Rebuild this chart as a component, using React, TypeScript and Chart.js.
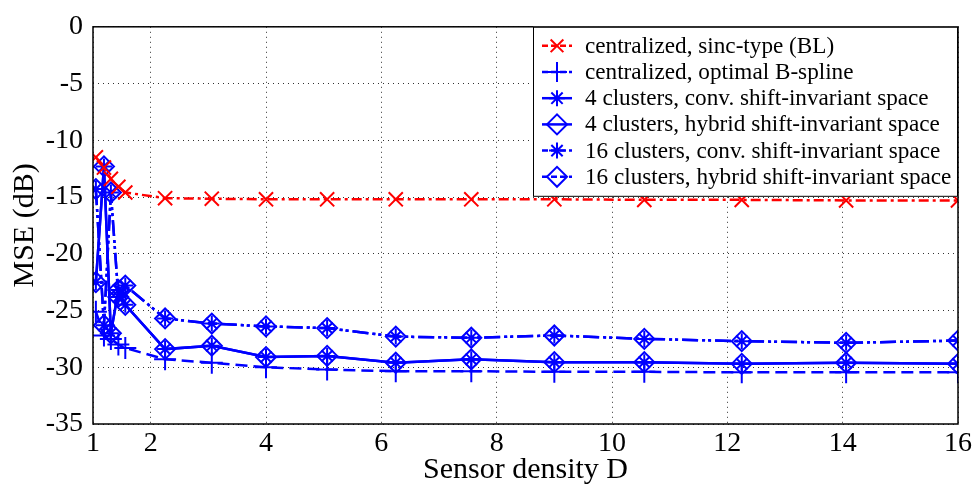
import React, { useEffect, useRef } from 'react';
import { Chart, registerables } from 'chart.js';

Chart.register(...registerables);

// Sensor density values (x) shared by every series
const densityX = [1.05, 1.19, 1.31, 1.44, 1.56, 2.25, 3.06, 4, 5.06, 6.25, 7.56, 9, 10.56, 12.25, 14.06, 16];

// MSE (dB) values
const sincY = [-11.5, -12.4, -13.4, -14.1, -14.6, -15.1, -15.15, -15.2, -15.2, -15.2, -15.2, -15.2, -15.25, -15.25, -15.3, -15.3];
const bsplineY = [-25.1, -27.2, -27.5, -28.0, -28.3, -29.3, -29.6, -30.0, -30.2, -30.35, -30.35, -30.4, -30.4, -30.45, -30.45, -30.45];
const conv4Y = [-22.5, -12.3, -27.0, -23.2, -24.5, -28.4, -28.1, -29.1, -29.0, -29.6, -29.3, -29.55, -29.55, -29.7, -29.6, -29.7];
const hybrid4Y = [-22.5, -12.3, -27.0, -23.2, -24.5, -28.4, -28.1, -29.1, -29.0, -29.6, -29.3, -29.55, -29.55, -29.7, -29.6, -29.7];
const conv16Y = [-14.3, -26.3, -14.6, -23.8, -22.8, -25.7, -26.15, -26.4, -26.55, -27.3, -27.4, -27.2, -27.5, -27.7, -27.85, -27.65];
const hybrid16Y = [-14.3, -26.3, -14.6, -23.8, -22.8, -25.7, -26.15, -26.4, -26.55, -27.3, -27.4, -27.2, -27.5, -27.7, -27.85, -27.65];

const seriesLabels = [
  'centralized, sinc-type (BL)',
  'centralized, optimal B-spline',
  '4 clusters, conv. shift-invariant space',
  '4 clusters, hybrid shift-invariant space',
  '16 clusters, conv. shift-invariant space',
  '16 clusters, hybrid shift-invariant space',
];

const xTickValues = [1, 2, 4, 6, 8, 10, 12, 14, 16];
const yMin = -35;
const yMax = 0;
const yStep = 5;

const RED = '#ff0000';
const BLUE = '#0000ff';
const FONT = "'Liberation Serif', 'Times New Roman', serif";

type Marker = 'crossRot' | 'cross' | 'star' | 'rectRot';

function drawMarker(ctx: CanvasRenderingContext2D, kind: Marker, x: number, y: number, r: number) {
  ctx.beginPath();
  const d = r * Math.SQRT1_2;
  if (kind === 'crossRot' || kind === 'star') {
    ctx.moveTo(x - d, y - d); ctx.lineTo(x + d, y + d);
    ctx.moveTo(x - d, y + d); ctx.lineTo(x + d, y - d);
  }
  if (kind === 'cross' || kind === 'star') {
    ctx.moveTo(x - r, y); ctx.lineTo(x + r, y);
    ctx.moveTo(x, y - r); ctx.lineTo(x, y + r);
  }
  if (kind === 'rectRot') {
    ctx.moveTo(x - r, y); ctx.lineTo(x, y - r); ctx.lineTo(x + r, y); ctx.lineTo(x, y + r); ctx.closePath();
  }
  ctx.stroke();
}

export default function App() {
  const ref = useRef<HTMLCanvasElement>(null);

  useEffect(() => {
    document.body.style.margin = '0';
    const canvas = ref.current;
    if (!canvas) return;

    const specs = [
      { data: sincY, color: RED, dash: [10, 4, 3, 4], marker: 'crossRot' as Marker, r: 10, lr: 9 },
      { data: bsplineY, color: BLUE, dash: [12, 6], marker: 'cross' as Marker, r: 11, lr: 10 },
      { data: conv4Y, color: BLUE, dash: [], marker: 'star' as Marker, r: 8, lr: 8 },
      { data: hybrid4Y, color: BLUE, dash: [], marker: 'rectRot' as Marker, r: 10, lr: 10 },
      { data: conv16Y, color: BLUE, dash: [16, 4, 3, 3, 3, 4], marker: 'star' as Marker, r: 8, lr: 8 },
      { data: hybrid16Y, color: BLUE, dash: [16, 4, 3, 3, 3, 4], marker: 'rectRot' as Marker, r: 10, lr: 10 },
    ];

    const frame = {
      id: 'frame',
      afterDatasetsDraw(chart: any) {
        const { ctx, chartArea: a } = chart;
        ctx.save();
        ctx.strokeStyle = '#000';
        ctx.lineWidth = 1.5;
        ctx.setLineDash([]);
        ctx.strokeRect(a.left, a.top, a.right - a.left, a.bottom - a.top);

        // legend
        const w = 425, h = 170;
        const lx = a.right - w, ly = a.top;
        ctx.fillStyle = '#fff';
        ctx.fillRect(lx, ly, w, h);
        ctx.lineWidth = 1;
        ctx.strokeRect(lx + 0.5, ly + 0.5, w - 1, h - 1);
        ctx.font = `23.2px ${FONT}`;
        ctx.textBaseline = 'middle';
        ctx.textAlign = 'left';
        specs.forEach((s, i) => {
          const cy = ly + 19 + i * 26.2;
          ctx.strokeStyle = s.color;
          ctx.lineWidth = 2.5;
          ctx.setLineDash(s.dash.length ? [6, 3] : []);
          ctx.beginPath();
          ctx.moveTo(lx + 9, cy);
          ctx.lineTo(lx + 39, cy);
          ctx.stroke();
          ctx.setLineDash([]);
          ctx.lineWidth = 2;
          drawMarker(ctx, s.marker, lx + 24, cy, s.lr);
          ctx.fillStyle = '#000';
          ctx.fillText(seriesLabels[i], lx + 52, cy + 1);
        });
        ctx.restore();
      },
    };

    const chart = new Chart(canvas, {
      type: 'line',
      data: {
        datasets: specs.map((s, i) => ({
          label: seriesLabels[i],
          data: s.data.map((y, j) => ({ x: densityX[j], y })),
          borderColor: s.color,
          backgroundColor: 'rgba(0,0,0,0)',
          borderWidth: 2.5,
          borderDash: s.dash,
          pointStyle: s.marker,
          pointRadius: s.r,
          pointBorderWidth: 2,
          pointBorderColor: s.color,
          pointBackgroundColor: 'rgba(0,0,0,0)',
          tension: 0,
          fill: false,
        })),
      },
      options: {
        responsive: false,
        animation: false,
        devicePixelRatio: 1,
        layout: { padding: { top: 13, right: 18, left: 0, bottom: 0 } },
        plugins: { legend: { display: false }, tooltip: { enabled: false } },
        scales: {
          x: {
            type: 'linear',
            min: 1,
            max: 16,
            afterBuildTicks: (scale: any) => {
              scale.ticks = xTickValues.map((v) => ({ value: v }));
            },
            afterFit: (scale: any) => { scale.height = 64; },
            grid: { color: '#333', lineWidth: 1, drawTicks: false },
            border: { display: false, dash: [1, 4] },
            ticks: {
              color: '#000',
              font: { family: FONT, size: 28 },
              padding: 3,
              maxRotation: 0,
              autoSkip: false,
            },
            title: {
              display: true,
              text: 'Sensor density D',
              color: '#000',
              font: { family: FONT, size: 30 },
              padding: { top: 0, bottom: 0 },
            },
          },
          y: {
            type: 'linear',
            min: yMin,
            max: yMax,
            afterFit: (scale: any) => { scale.width = 93; },
            grid: { color: '#333', lineWidth: 1, drawTicks: false },
            border: { display: false, dash: [1, 4] },
            ticks: {
              color: '#000',
              stepSize: yStep,
              font: { family: FONT, size: 28 },
              padding: 10,
            },
            title: {
              display: true,
              text: 'MSE (dB)',
              color: '#000',
              font: { family: FONT, size: 30 },
              padding: { top: 7, bottom: 0 },
            },
          },
        },
      },
      plugins: [frame],
    });

    return () => chart.destroy();
  }, []);

  return (
    <div style={{ width: 976, height: 488 }}>
      <canvas ref={ref} width={976} height={488} style={{ display: 'block' }} />
    </div>
  );
}
